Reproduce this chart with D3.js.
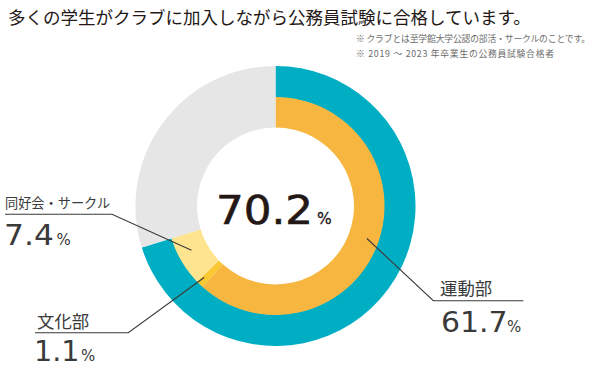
<!DOCTYPE html>
<html><head><meta charset="utf-8">
<script src="https://cdn.jsdelivr.net/npm/d3@7"></script>
<style>
html,body{margin:0;padding:0;background:#fff;}
svg{display:block;}
</style></head>
<body>
<svg id="chart" width="600" height="367"></svg>
<script>
// ---- data ----
const title = "多くの学生がクラブに加入しながら公務員試験に合格しています。";
const notes = ["※ クラブとは至学館大学公認の部活・サークルのことです。", "※ 2019 ～ 2023 年卒業生の公務員試験合格者"];
const totalLabel = "70.2";
const outerCategories = ["公務員試験合格者のクラブ加入", "その他"];
const outerValues = [70.2, 29.8];
const innerCategories = ["運動部", "文化部", "同好会・サークル", "その他"];
const innerValues = [61.7, 1.1, 7.4, 29.8];
const innerLabels = ["61.7", "1.1", "7.4", null];

const outerColors = ["#00AEC4", "#E6E6E6"];
const innerColors = ["#F7B63F", "#FAC832", "#FFE48F", "#E6E6E6"];

const svg = d3.select("#chart");
const cx = 275.5, cy = 206;
const g = svg.append("g").attr("transform", `translate(${cx},${cy})`);

const pie = d3.pie().sort(null).value(d => d).startAngle(0).endAngle(2 * Math.PI);
const outerArc = d3.arc().innerRadius(108.5).outerRadius(140);
const innerArc = d3.arc().innerRadius(78.5).outerRadius(109);

g.selectAll("path.outer").data(pie(outerValues)).join("path")
  .attr("class", "outer").attr("d", outerArc).attr("fill", (d, i) => outerColors[i]);
const innerPie = pie(innerValues);
g.selectAll("path.inner").data(innerPie).join("path")
  .attr("class", "inner").attr("d", innerArc).attr("fill", (d, i) => innerColors[i]);

// title & notes
svg.append("text").attr("x", 8).attr("y", 23.5)
  .attr("font-family", "'Noto Sans CJK JP'").attr("font-size", 17.5)
  .attr("fill", "#231815").text(title);
const noteWidths = [234, 198];
notes.forEach((t, i) => {
  svg.append("text").attr("x", 356).attr("y", 42 + i * 14.5)
    .attr("font-family", "'Noto Sans CJK JP'").attr("font-size", 8.8)
    .attr("textLength", noteWidths[i]).attr("lengthAdjust", "spacing")
    .attr("fill", "#6b6b6b").text(t);
});

// center total
svg.append("text").attr("x", 216).attr("y", 223.5)
  .attr("font-family", "'DejaVu Sans'").attr("font-size", 38.5)
  .attr("textLength", 97).attr("lengthAdjust", "spacingAndGlyphs")
  .attr("fill", "#231815").attr("stroke", "#231815").attr("stroke-width", 0.6)
  .text(totalLabel);
svg.append("text").attr("x", 317).attr("y", 223.5)
  .attr("font-family", "'DejaVu Sans'").attr("font-size", 15.5)
  .attr("fill", "#231815").attr("stroke", "#231815").attr("stroke-width", 0.3)
  .text("%");

// label layout
const layout = [
  {ex: 433.3, uy: 300.7, fx: 523.3, nx: 440, ny: 294.5, ns: 17.4, vx: 441, vy: 331.7, fs: 28.5, vs: 1.05, px: 507, r: 97, da: -0.026},
  {ex: 128.3, uy: 332.7, fx: 35, nx: 37, ny: 327.5, ns: 17.4, vx: 34, vy: 360.6, fs: 27.5, vs: 1.04, px: 81, r: 101, da: 0.015},
  {ex: 112, uy: 214.3, fx: 5, nx: 5, ny: 208.3, ns: 13.2, vx: 4, vy: 244.5, fs: 28.5, vs: 1.1, px: 56.5, r: 95, da: 0.049}
];
const lineColor = "#3a3a3a", textColor = "#3a3a3a";
layout.forEach((L, i) => {
  const d = innerPie[i];
  const a = (d.startAngle + d.endAngle) / 2 + L.da;
  const sx = cx + L.r * Math.sin(a), sy = cy - L.r * Math.cos(a);
  svg.append("polyline")
    .attr("points", `${sx},${sy} ${L.ex},${L.uy} ${L.fx},${L.uy}`)
    .attr("fill", "none").attr("stroke", lineColor).attr("stroke-width", 1.1);
  svg.append("text").attr("x", L.nx).attr("y", L.ny)
    .attr("font-family", "'Noto Sans CJK JP'").attr("font-size", L.ns)
    .attr("fill", textColor).text(innerCategories[i]);
  svg.append("text")
    .attr("transform", `translate(${L.vx},${L.vy}) scale(${L.vs},1)`)
    .attr("font-family", "'DejaVu Sans'").attr("font-size", L.fs)
    .attr("fill", textColor).text(innerLabels[i]);
  svg.append("text").attr("x", L.px).attr("y", L.vy)
    .attr("font-family", "'DejaVu Sans'").attr("font-size", 15)
    .attr("fill", textColor).text("%");
});
</script>
</body></html>
